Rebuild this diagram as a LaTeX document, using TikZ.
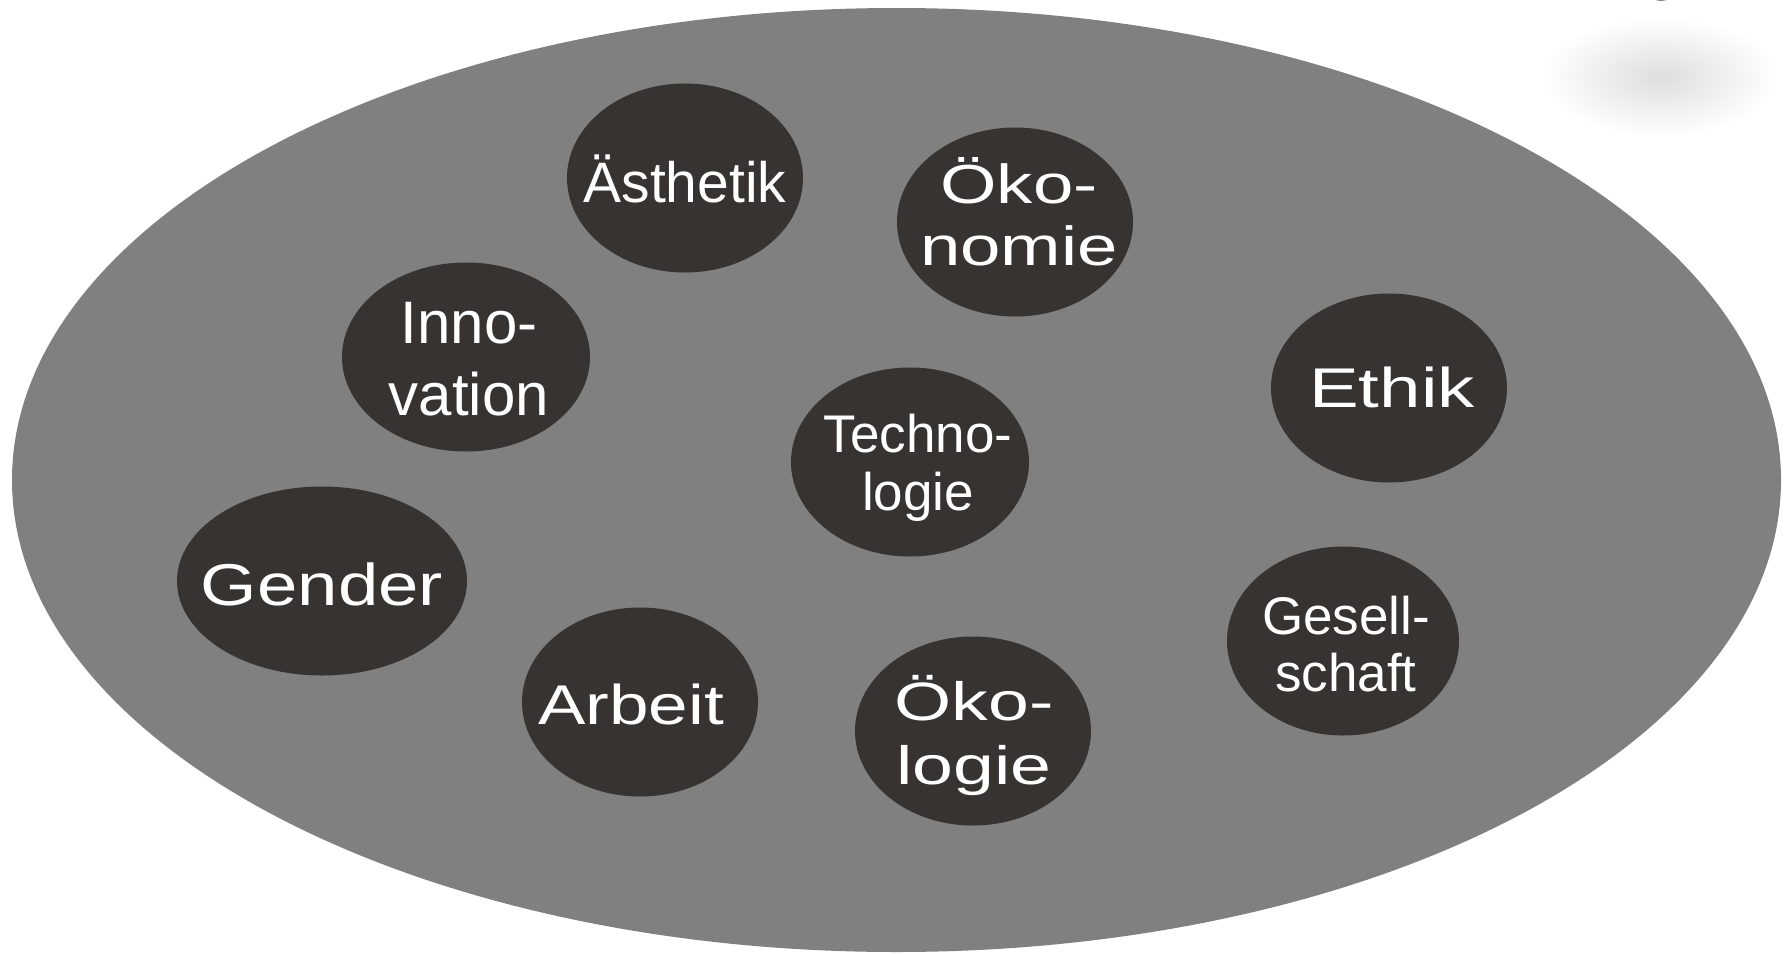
\documentclass[tikz,border=0pt]{standalone}
\usepackage{fontspec}
\usepackage{graphicx}
\setmainfont{Liberation Sans}
\usetikzlibrary{shapes.geometric}
\definecolor{plate}{RGB}{128,128,128}
\definecolor{bubblecol}{RGB}{54,51,48}
\newcommand{\lbltxt}[4]{\fontsize{#1}{#2}\selectfont\scalebox{#3}[1]{\begin{tabular}[t]{@{}c@{}}#4\end{tabular}}}
\begin{document}
\begin{tikzpicture}[x=1pt,y=-1pt,
  bubble/.style={ellipse, fill=bubblecol, draw=none, inner sep=0pt, minimum width=236pt, minimum height=189pt},
  lbl/.style={text=white, inner sep=0pt, anchor=base}]
\useasboundingbox (0,0) rectangle (1788,953);
% faint shadow top right
\shade[inner color=black!13, outer color=white] (1660,77) ellipse [x radius=118, y radius=60];
\fill[plate!95!black] (1661,-8) ellipse [x radius=12, y radius=9];
% big plate
\node[ellipse, fill=plate, draw=none, inner sep=0pt, minimum width=1769pt, minimum height=944pt] (plate) at (896.5,480) {};
% bubbles
\node[bubble] (aes) at (685,178) {};
\node[bubble] (oekon) at (1015,222) {};
\node[bubble, minimum width=248pt] (inno) at (466,357) {};
\node[bubble] (ethik) at (1389,388) {};
\node[bubble, minimum width=238pt] (tech) at (910,462) {};
\node[bubble, minimum width=290pt] (gender) at (322,581) {};
\node[bubble] (arbeit) at (640,702) {};
\node[bubble] (oekol) at (973,731) {};
\node[bubble, minimum width=232pt] (ges) at (1343,641) {};
% labels
\node[lbl] (aesT) at (685,202) {\lbltxt{57}{66}{1}{Ästhetik}};
\node[lbl] (oekonT) at (1019,203) {\lbltxt{55}{62}{1.32}{Öko-\\nomie}};
\node[lbl] (innoT) at (469,343) {\lbltxt{60}{72}{1}{Inno-\\vation}};
\node[lbl] (ethikT) at (1392,407) {\lbltxt{56}{66}{1.33}{Ethik}};
\node[lbl] (techT) at (918,452) {\lbltxt{53}{58}{1}{Techno-\\logie}};
\node[lbl] (genderT) at (322,605) {\lbltxt{59}{66}{1.23}{Gender}};
\node[lbl] (arbeitT) at (631,724) {\lbltxt{56}{66}{1.27}{Arbeit}};
\node[lbl] (oekolT) at (974,720) {\lbltxt{54}{64}{1.36}{Öko-\\logie}};
\node[lbl] (gesT) at (1346,634) {\lbltxt{53}{57}{1}{Gesell-\\schaft}};
\end{tikzpicture}
\end{document}
